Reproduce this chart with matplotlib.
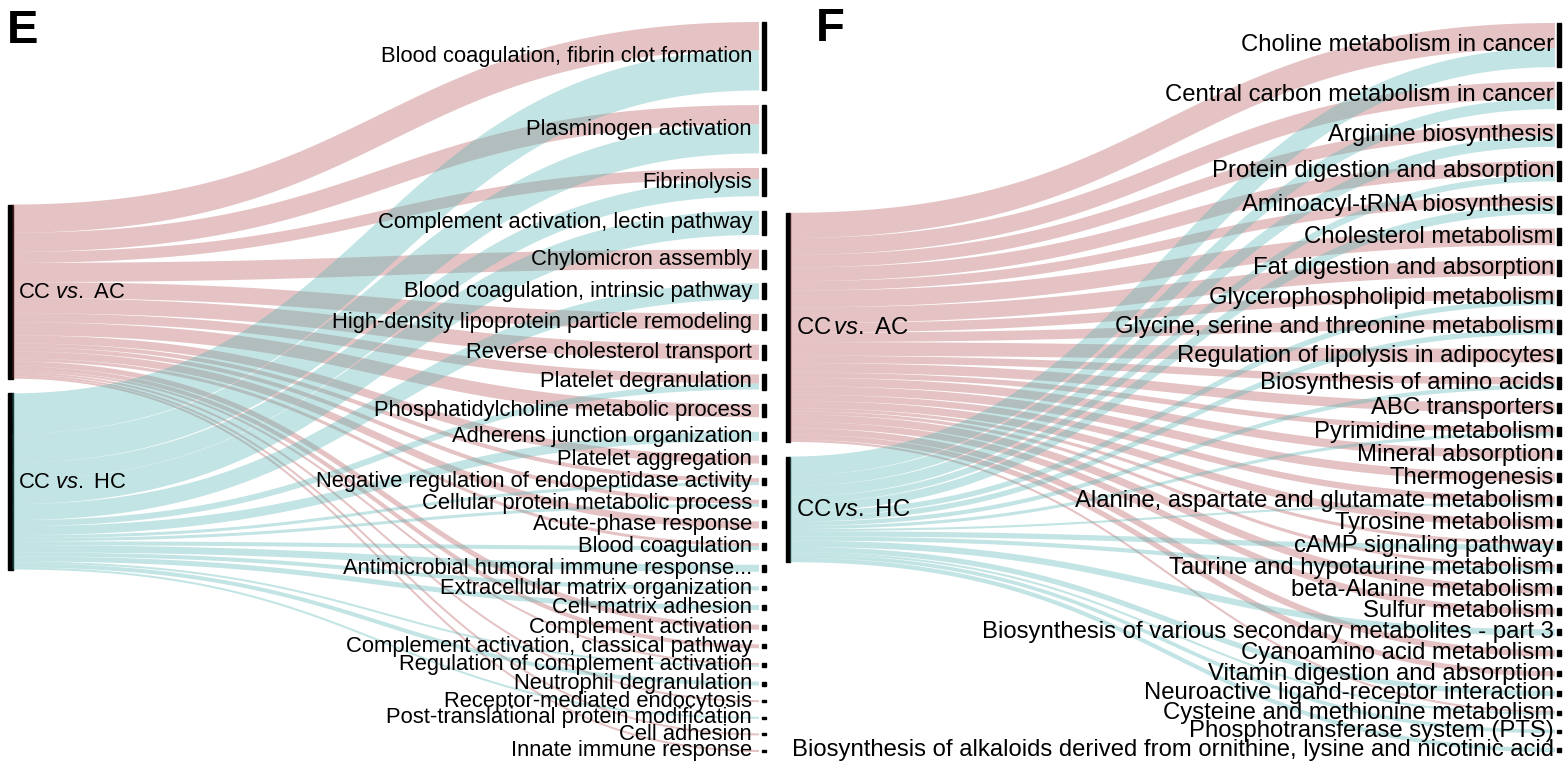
import numpy as np
import matplotlib.pyplot as plt
from matplotlib.patches import Rectangle

plt.rcParams['font.family'] = 'Liberation Sans'
plt.rcParams['mathtext.fontset'] = 'custom'
plt.rcParams['mathtext.rm'] = 'Liberation Sans'
plt.rcParams['mathtext.it'] = 'Liberation Sans:italic'

# Panel E: GO terms, counts from CC vs. AC and CC vs. HC
terms_e = ['Blood coagulation, fibrin clot formation', 'Plasminogen activation',
           'Fibrinolysis', 'Complement activation, lectin pathway',
           'Chylomicron assembly', 'Blood coagulation, intrinsic pathway',
           'High-density lipoprotein particle remodeling',
           'Reverse cholesterol transport', 'Platelet degranulation',
           'Phosphatidylcholine metabolic process',
           'Adherens junction organization', 'Platelet aggregation',
           'Negative regulation of endopeptidase activity',
           'Cellular protein metabolic process', 'Acute-phase response',
           'Blood coagulation', 'Antimicrobial humoral immune response...',
           'Extracellular matrix organization', 'Cell-matrix adhesion',
           'Complement activation', 'Complement activation, classical pathway',
           'Regulation of complement activation', 'Neutrophil degranulation',
           'Receptor-mediated endocytosis',
           'Post-translational protein modification', 'Cell adhesion',
           'Innate immune response']
ac_e = [28, 19, 11, 0, 19, 0, 16, 15, 9, 13, 0, 8, 4, 4, 7, 3, 0, 0, 0, 5, 4,
        2, 0, 2, 0, 2, 2]
hc_e = [40, 29, 17, 24, 0, 16, 0, 0, 6, 0, 9, 0, 3, 3, 0, 4, 7, 4, 5, 0, 0,
        2, 4, 0, 2, 0, 0]

# Panel F: KEGG pathways
terms_f = ['Choline metabolism in cancer', 'Central carbon metabolism in cancer',
           'Arginine biosynthesis', 'Protein digestion and absorption',
           'Aminoacyl-tRNA biosynthesis', 'Cholesterol metabolism',
           'Fat digestion and absorption', 'Glycerophospholipid metabolism',
           'Glycine, serine and threonine metabolism',
           'Regulation of lipolysis in adipocytes',
           'Biosynthesis of amino acids', 'ABC transporters',
           'Pyrimidine metabolism', 'Mineral absorption', 'Thermogenesis',
           'Alanine, aspartate and glutamate metabolism',
           'Tyrosine metabolism', 'cAMP signaling pathway',
           'Taurine and hypotaurine metabolism', 'beta-Alanine metabolism',
           'Sulfur metabolism',
           'Biosynthesis of various secondary metabolites - part 3',
           'Cyanoamino acid metabolism', 'Vitamin digestion and absorption',
           'Neuroactive ligand-receptor interaction',
           'Cysteine and methionine metabolism',
           'Phosphotransferase system (PTS)',
           'Biosynthesis of alkaloids derived from ornithine, lysine and nicotinic acid']
ac_f = [24, 16, 12, 13, 9, 16, 15, 9, 9, 13, 7, 9, 5, 8, 8, 6, 7, 3, 3, 7, 6,
        0, 6, 5, 0, 2, 0, 0]
hc_f = [18, 10, 10, 6, 8, 0, 0, 5, 5, 0, 4, 0, 3, 0, 0, 2, 0, 5, 4, 0, 0,
        6, 0, 0, 5, 2, 3.5, 4]

PINK = '#b55456'
TEAL = '#54b2b2'
DPI = 100


def bezier(x0, y0, x1, y1, n=80):
    t = np.linspace(0, 1, n)
    xm = (x0 + x1) / 2
    x = (1-t)**3*x0 + 3*(1-t)**2*t*xm + 3*(1-t)*t**2*xm + t**3*x1
    y = (1-t)**3*y0 + 3*(1-t)**2*t*y0 + 3*(1-t)*t**2*y1 + t**3*y1
    return x, y


def sankey(ax, terms, ac, hc, left_labels, x0, x1, top, bottom, pad, fs,
           gap_lab, gap_bar):
    ac = np.array(ac, float)
    hc = np.array(hc, float)
    tot = ac + hc
    n = len(terms)
    ky = (bottom - top - (n - 1) * pad) / tot.sum()

    h_r = tot * ky
    y_r = top + np.concatenate([[0], np.cumsum(h_r[:-1] + pad)])

    h_l = np.array([ac.sum(), hc.sum()]) * ky
    y_start = (top + bottom) / 2 - (h_l.sum() + pad) / 2
    y_l = [y_start, y_start + h_l[0] + pad]

    # links
    for k, (vals, col) in enumerate([(ac, PINK), (hc, TEAL)]):
        ys = y_l[k]
        for i in range(n):
            w = vals[i] * ky
            if w == 0:
                continue
            yt = y_r[i] + (ac[i] * ky if k == 1 else 0)
            x, y = bezier(x0, ys + w/2, x1, yt + w/2)
            ax.plot(x, y, color=col, alpha=0.35, lw=w * 72 / DPI,
                    solid_capstyle='butt')
            ys += w

    # nodes
    for k in range(2):
        ax.add_patch(Rectangle((x0 - 4.5, y_l[k]), 4.5, h_l[k], color='black'))
        ax.text(x0 + 6, y_l[k] + h_l[k] / 2 + 1, left_labels[k], fontsize=fs,
                ha='left', va='center')
    for i in range(n):
        ax.add_patch(Rectangle((x1 + gap_bar, y_r[i]), 4, max(h_r[i], 1.5),
                               color='black'))
        ax.text(x1 - gap_lab, y_r[i] + h_r[i] / 2, terms[i], fontsize=fs,
                ha='right', va='center')


fig = plt.figure(figsize=(15.67, 7.68), dpi=DPI)
ax = fig.add_axes([0, 0, 1, 1])
ax.set_xlim(0, 1567)
ax.set_ylim(768, 0)
ax.axis('off')

sankey(ax, terms_e, ac_e, hc_e,
       ['CC $\\mathit{vs.}$ AC', 'CC $\\mathit{vs.}$ HC'],
       12.5, 759, 22, 752, 14.6, 15.8, 7, 3)
sankey(ax, terms_f, ac_f, hc_f,
       ['CC$\\,\\mathit{vs.}$ AC', 'CC$\\,\\mathit{vs.}$ HC'],
       790, 1555, 23, 752, 14.6, 17.2, 1, 2)

ax.text(7, 31, 'E', fontsize=34, fontweight='bold', va='center')
ax.text(816, 29, 'F', fontsize=34, fontweight='bold', va='center')

plt.savefig('out.png', dpi=DPI)
